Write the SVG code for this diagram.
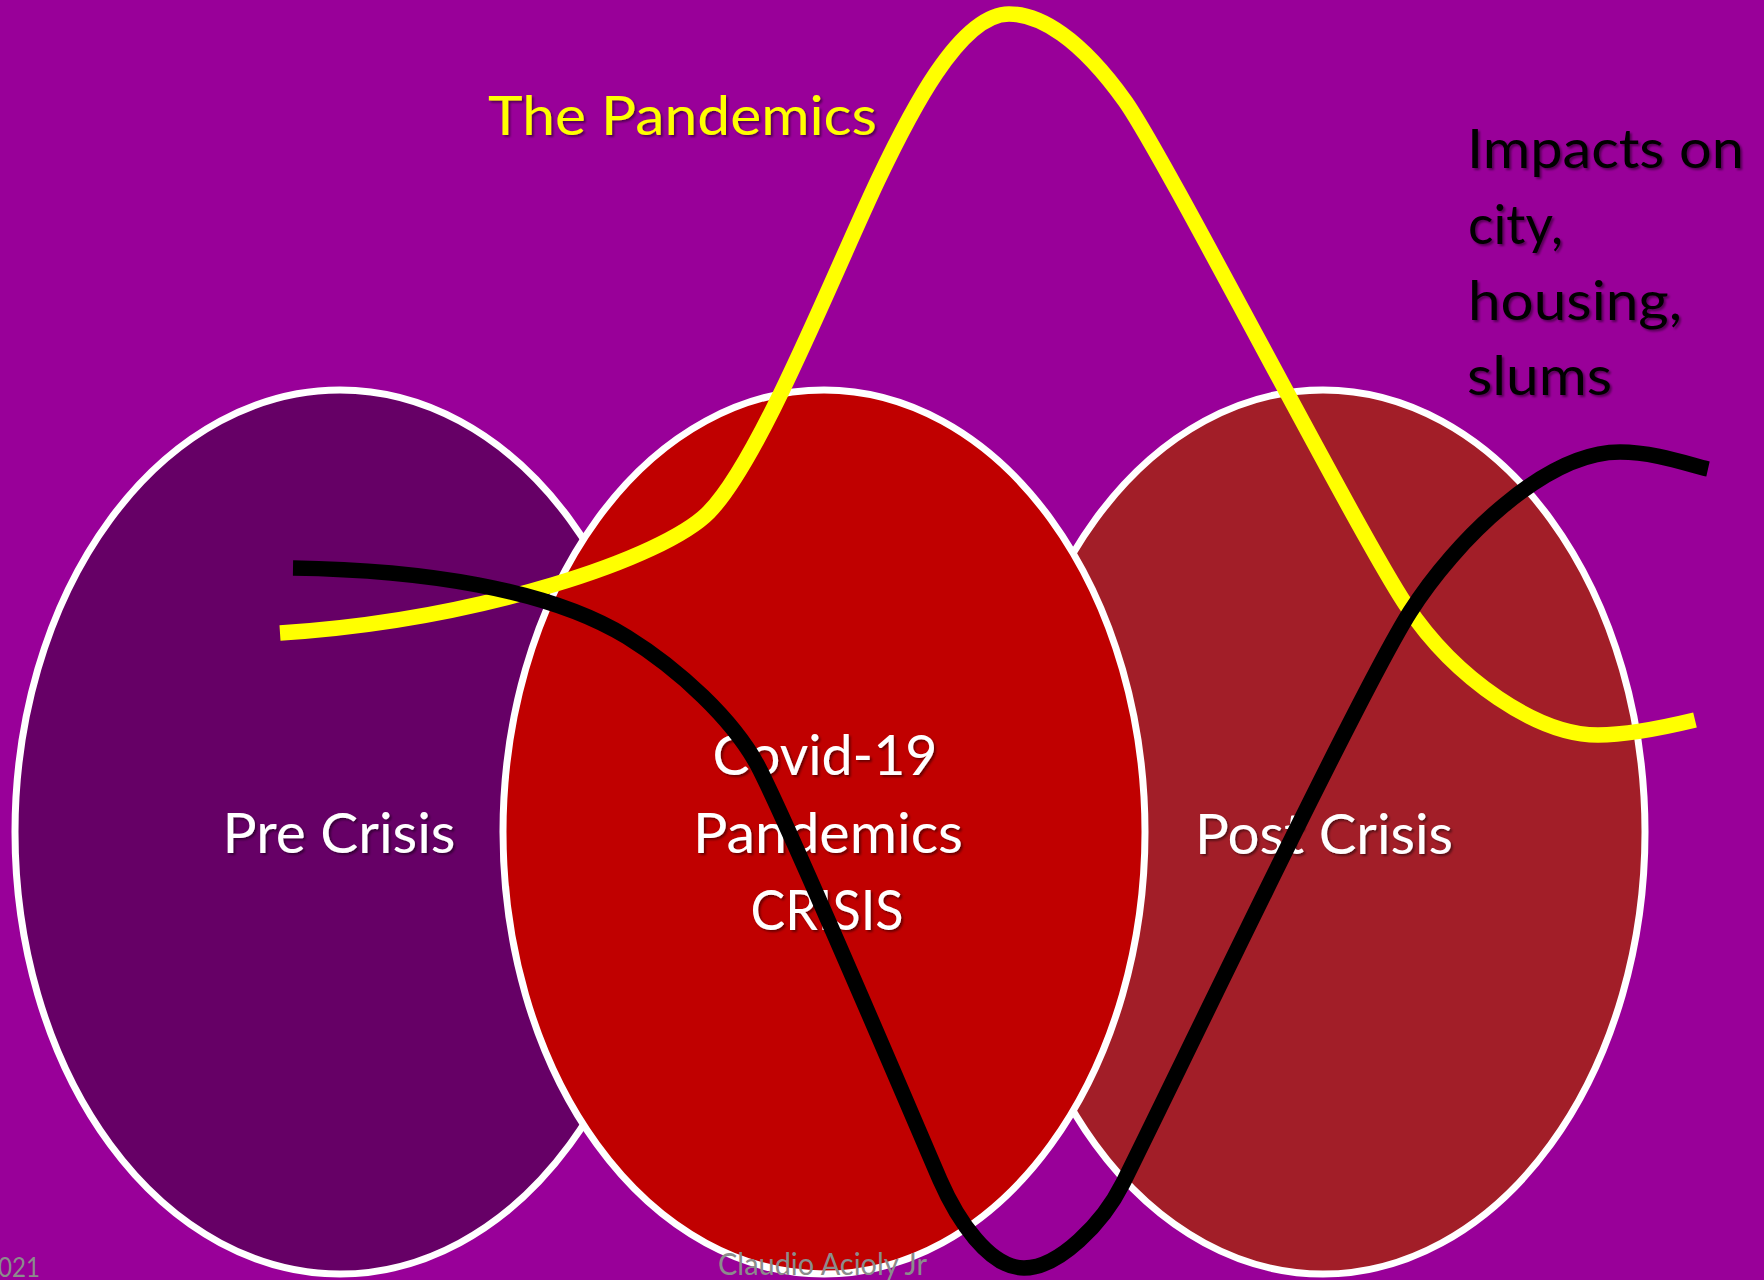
<svg xmlns="http://www.w3.org/2000/svg" width="1764" height="1280" viewBox="0 0 1764 1280">
  <defs>
    <filter id="sh" x="-10%" y="-20%" width="120%" height="140%">
      <feDropShadow dx="2" dy="2" stdDeviation="1.2" flood-color="#000" flood-opacity="0.45"/>
    </filter>
  </defs>
  <style>
    .ell { stroke: #FFFFFF; stroke-width: 7; }
    .lbl { font-family: Lato, Carlito, "Liberation Sans", sans-serif; font-size: 56px; fill: #FFFFFF; text-anchor: middle; filter: url(#sh); }
    .note { font-family: Lato, Carlito, "Liberation Sans", sans-serif; font-size: 54px; filter: url(#sh); }
    .foot { font-family: Lato, Carlito, "Liberation Sans", sans-serif; fill: #8C8C8C; }
    .curve { fill: none; stroke-width: 15.5; stroke-linecap: butt; stroke-linejoin: round; }
  </style>
  <rect x="0" y="0" width="1764" height="1280" fill="#990099"/>

  <g id="pre-crisis">
    <ellipse class="ell" cx="340" cy="832" rx="325" ry="442" fill="#660066"/>
  </g>
  <g id="post-crisis">
    <ellipse class="ell" cx="1323" cy="832" rx="322" ry="442" fill="#A21E28"/>
  </g>
  <g id="covid-crisis">
    <ellipse class="ell" cx="824" cy="832" rx="321" ry="442" fill="#C00000"/>
  </g>

  <g id="labels">
    <text class="lbl" x="339" y="853" textLength="233" lengthAdjust="spacingAndGlyphs">Pre Crisis</text>
    <text class="lbl" x="825" y="775" textLength="225" lengthAdjust="spacingAndGlyphs">Covid-19</text>
    <text class="lbl" x="828" y="853" textLength="270" lengthAdjust="spacingAndGlyphs">Pandemics</text>
    <text class="lbl" x="827" y="930" textLength="153" lengthAdjust="spacingAndGlyphs">CRISIS</text>
    <text class="lbl" x="1324" y="854" textLength="258" lengthAdjust="spacingAndGlyphs">Post Crisis</text>
  </g>

  <g id="pandemics-label">
    <text class="note" x="488" y="135" fill="#FFFF00" textLength="389" lengthAdjust="spacingAndGlyphs">The Pandemics</text>
  </g>

  <g id="impacts-label">
    <text class="note" x="1467" y="168" fill="#000000" textLength="277" lengthAdjust="spacingAndGlyphs">Impacts on</text>
    <text class="note" x="1468" y="244" fill="#000000" textLength="95" lengthAdjust="spacingAndGlyphs">city,</text>
    <text class="note" x="1468" y="320" fill="#000000" textLength="214" lengthAdjust="spacingAndGlyphs">housing,</text>
    <text class="note" x="1467" y="395" fill="#000000" textLength="145" lengthAdjust="spacingAndGlyphs">slums</text>
  </g>

  <g id="connectors">
    <path id="pandemic-curve" class="curve" stroke="#FFFF00"
      d="M280,633 C480,620 664,558 709,512 C760,460 833,275 878,180 C908,117 959,14 1009,14 C1040,14 1080,38 1125,101 C1165,157 1356,530 1406,605 C1456,680 1538,735 1598,735 C1630,735 1670,726 1695,720"/>
    <path id="impact-curve" class="curve" stroke="#000000"
      d="M293,568 C420,570 547,588 627,637 C677,668 735,720 760,770 C800,850 920,1134 940,1180 C957,1219 989,1268 1024,1268 C1059,1268 1103,1223 1123,1183 C1173,1083 1360,691 1410,612 C1455,541 1545,452 1620,452 C1655,452 1690,465 1708,469"/>
  </g>

  <g id="footer">
    <text class="foot" x="-2" y="1277" font-size="27" textLength="42" lengthAdjust="spacingAndGlyphs">021</text>
    <text class="foot" x="718" y="1275" font-size="31" textLength="209" lengthAdjust="spacingAndGlyphs">Claudio Acioly Jr</text>
  </g>
</svg>
